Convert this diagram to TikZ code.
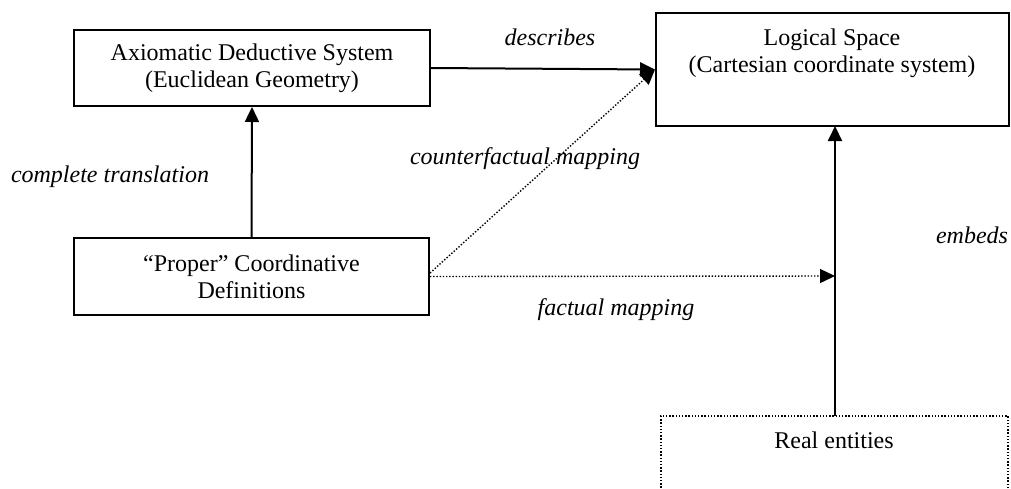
\documentclass[tikz,border=0pt]{standalone}
\usepackage{fontspec}
\setmainfont{Liberation Serif}
\usetikzlibrary{arrows.meta}
\begin{document}
\begin{tikzpicture}[x=1pt,y=-1pt,
  font=\fontsize{24}{27}\selectfont,
  box/.style={draw, line width=2pt, align=center, inner sep=0pt},
  dbox/.style={draw, line width=1.4pt, dash pattern=on 1.4pt off 1.8pt, inner sep=0pt},
  lbl/.style={font=\fontsize{24}{27}\selectfont\itshape, inner sep=0pt, anchor=base},
  arr/.style={line width=2pt, -{Triangle[length=15pt,width=14pt]}},
  darr/.style={line width=1.4pt, dash pattern=on 1.4pt off 1.8pt, -{Triangle[length=15pt,width=14pt]}}]
\useasboundingbox (0,0) rectangle (1011,488);
\node[box, minimum width=356pt, minimum height=76pt] (A) at (252,68) {Axiomatic Deductive System\\(Euclidean Geometry)};
\node[box, minimum width=355pt, minimum height=77pt] (C) at (251.5,276.5) {``Proper'' Coordinative\\Definitions};
\node[box, minimum width=353pt, minimum height=113pt] (L) at (832.5,69.5) {};
\node[align=center, inner sep=0pt] (Lt) at (832,53) {Logical Space\\(Cartesian coordinate system)};
\node[dbox, minimum width=347pt, minimum height=90pt] (R) at (834.5,461) {};
\node[inner sep=0pt, anchor=base] (Rt) at (834,448) {Real entities};
\coordinate (Rtop) at (835,416);
\coordinate (Lbot) at (835,126);
\coordinate (M) at (835,276);
\coordinate (Cs) at (430,273);
\draw[arr] (A.east) -- (L.west);
\draw[arr] (C.north) -- (A.south);
\draw[arr] (Rtop) -- (Lbot);
\draw[darr] (Cs) -- (L.west);
\draw[darr] (C.east) -- (M);
\node[lbl] (d) at (550,45) {describes};
\node[lbl] (ct) at (110,182) {complete translation};
\node[lbl] (cm) at (525,164) {counterfactual mapping};
\node[lbl] (e) at (972,243) {embeds};
\node[lbl] (fm) at (616,315) {factual mapping};
\end{tikzpicture}
\end{document}
